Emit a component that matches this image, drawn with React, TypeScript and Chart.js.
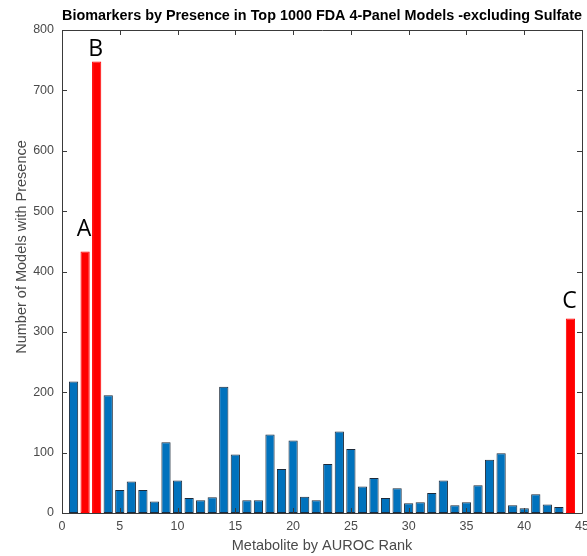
import React, { useEffect, useRef } from "react";
import { Chart, registerables } from "chart.js";

Chart.register(...registerables);

const ranks = [1, 2, 3, 4, 5, 6, 7, 8, 9, 10, 11, 12, 13, 14, 15, 16, 17, 18, 19, 20, 21, 22, 23, 24, 25, 26, 27, 28, 29, 30, 31, 32, 33, 34, 35, 36, 37, 38, 39, 40, 41, 42, 43, 44];
const presence = [218, 433, 748, 195, 38, 52, 38, 19, 117, 54, 25, 21, 26, 209, 97, 21, 21, 130, 73, 120, 27, 21, 81, 135, 106, 44, 58, 25, 41, 16, 18, 33, 54, 13, 18, 46, 88, 99, 13, 8, 31, 14, 10, 322];
const highlightRanks = [2, 3, 44];
const highlightLabels = ["A", "B", "C"];
const highlightGaps = [16, 5, 11];
const xTicks = [0, 5, 10, 15, 20, 25, 30, 35, 40, 45];
const yTicks = [0, 100, 200, 300, 400, 500, 600, 700, 800];

const TITLE = "Biomarkers by Presence in Top 1000 FDA 4-Panel Models -excluding Sulfate";
const X_LABEL = "Metabolite by AUROC Rank";
const Y_LABEL = "Number of Models with Presence";

const BLUE = "#0072BD";
const RED = "#FF0000";
const AXIS = "#3a3a3a";
const TEXT = "#4a4a4a";
const FONT = "Arial, 'Liberation Sans', sans-serif";

const boxPlugin = {
  id: "matlabBox",
  afterDatasetsDraw(chart: any) {
    const { ctx, chartArea: a, scales } = chart;
    const xs = scales.x;
    const ys = scales.y;
    ctx.save();
    ctx.strokeStyle = AXIS;
    ctx.lineWidth = 1;
    ctx.beginPath();
    ctx.rect(Math.round(a.left) + 0.5, Math.round(a.top) + 0.5, Math.round(a.right - a.left), Math.round(a.bottom - a.top));
    ctx.stroke();
    const tl = 5;
    ctx.beginPath();
    xTicks.forEach((v) => {
      const px = Math.round(xs.getPixelForValue(v)) + 0.5;
      ctx.moveTo(px, a.bottom);
      ctx.lineTo(px, a.bottom - tl);
      ctx.moveTo(px, a.top);
      ctx.lineTo(px, a.top + tl);
    });
    yTicks.forEach((v) => {
      const py = Math.round(ys.getPixelForValue(v)) + 0.5;
      ctx.moveTo(a.left, py);
      ctx.lineTo(a.left + tl, py);
      ctx.moveTo(a.right, py);
      ctx.lineTo(a.right - tl, py);
    });
    ctx.stroke();

    // y-axis label
    ctx.save();
    ctx.translate(22, 247);
    ctx.rotate(-Math.PI / 2);
    ctx.fillStyle = TEXT;
    ctx.font = `14.5px ${FONT}`;
    ctx.textAlign = "center";
    ctx.textBaseline = "middle";
    ctx.fillText(Y_LABEL, 0, 0);
    ctx.restore();

    ctx.fillStyle = "#000";
    ctx.font = '23px "Open Sans", "Liberation Sans", sans-serif';
    ctx.textAlign = "center";
    ctx.textBaseline = "alphabetic";
    highlightRanks.forEach((r, i) => {
      const v = presence[ranks.indexOf(r)];
      const px = xs.getPixelForValue(r);
      const py = ys.getPixelForValue(v) - highlightGaps[i];
      ctx.fillText(highlightLabels[i], px - 1, py);
    });
    ctx.restore();
  },
};

export default function App() {
  const ref = useRef<HTMLCanvasElement | null>(null);
  useEffect(() => {
    if (!ref.current) return;
    const chart = new Chart(ref.current, {
      type: "bar",
      data: {
        datasets: [
          {
            data: ranks.map((r, i) => ({ x: r, y: presence[i] })) as any,
            backgroundColor: ranks.map((r) => (highlightRanks.includes(r) ? RED : BLUE)),
            borderColor: ranks.map((r) => (highlightRanks.includes(r) ? RED : "#1c2a3a")),
            borderWidth: 1,
            borderSkipped: false,
            barPercentage: 0.8,
            categoryPercentage: 1,
          },
        ],
      },
      options: {
        animation: false,
        responsive: false,
        maintainAspectRatio: false,
        layout: { padding: { left: 0, right: 5, top: 0, bottom: 0 } },
        plugins: {
          legend: { display: false },
          tooltip: { enabled: false },
          title: {
            display: true,
            text: TITLE,
            fullSize: false,
            color: "#000",
            font: { family: FONT, size: 14.5, weight: "bold", lineHeight: 1.2 },
            padding: { top: 7, bottom: 5.6 },
          },
        },
        scales: {
          x: {
            type: "linear",
            min: 0,
            max: 45,
            offset: false,
            afterFit: (s: any) => {
              s.height = 43;
              s.paddingLeft = 0;
              s.paddingRight = 0;
            },
            grid: { display: false, drawTicks: false, offset: false },
            border: { display: false },
            ticks: {
              stepSize: 5,
              padding: 6,
              color: TEXT,
              maxRotation: 0,
              font: { family: FONT, size: 12.5 },
            },
            title: {
              display: true,
              text: X_LABEL,
              color: TEXT,
              font: { family: FONT, size: 14.5, lineHeight: 1.2 },
              padding: { top: 0, bottom: 1.5 },
            },
          },
          y: {
            min: 0,
            max: 800,
            afterFit: (s: any) => {
              s.width = 62;
            },
            grid: { display: false, drawTicks: false },
            border: { display: false },
            ticks: {
              stepSize: 100,
              padding: 8,
              color: TEXT,
              font: { family: FONT, size: 12.5 },
            },
            title: { display: false },
          },
        },
      },
      plugins: [boxPlugin],
    });
    return () => chart.destroy();
  }, []);
  return (
    <div style={{ position: "absolute", left: 0, top: 0, width: 587, height: 556, background: "#fff" }}>
      <canvas ref={ref} width={587} height={556} style={{ width: 587, height: 556, display: "block" }} />
    </div>
  );
}
